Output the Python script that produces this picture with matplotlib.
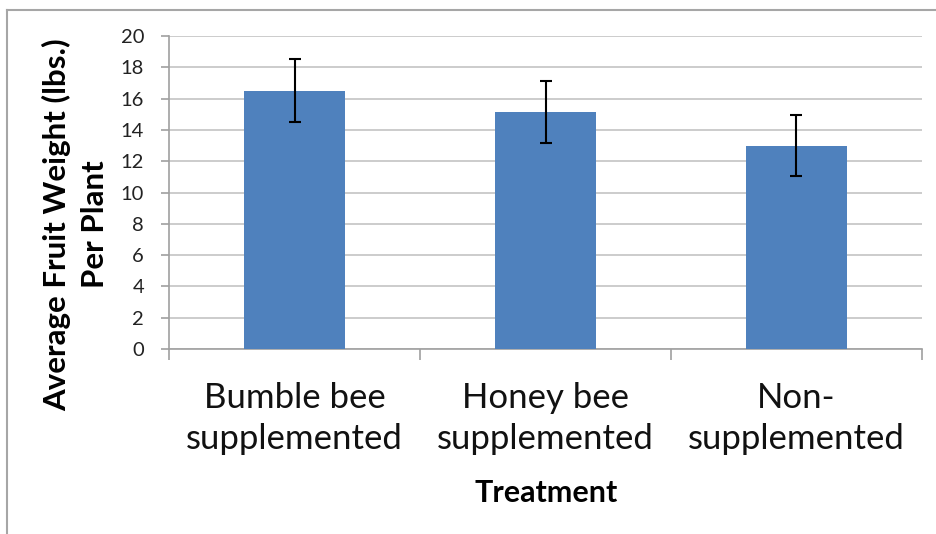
import numpy as np
import matplotlib
matplotlib.use("Agg")
from matplotlib import pyplot as plt
from matplotlib.lines import Line2D

categories = ["Bumble bee\nsupplemented", "Honey bee\nsupplemented", "Non-\nsupplemented"]
means = [16.5, 15.15, 13.0]
errors = [2.0, 1.97, 1.97]
y_ticks = [0, 2, 4, 6, 8, 10, 12, 14, 16, 18, 20]
y_label_lines = ["Average Fruit Weight (lbs.)", "Per Plant"]

plt.rcParams['font.family'] = ['Lato', 'DejaVu Sans']

fig = plt.figure(figsize=(9.36, 5.34), dpi=100)
ax = fig.add_axes([0.1806, 0.3464, 0.8044, 0.5862])

x = np.arange(len(categories))
ax.bar(x, means, width=0.4, color="#4F81BD", zorder=3)
ax.errorbar(x, means, yerr=errors, fmt="none", ecolor="black",
            elinewidth=1.5, capsize=4, capthick=1.5, zorder=4)

ax.set_xlim(-0.5, len(categories) - 0.5)
ax.set_ylim(0, 20)
ax.set_yticks(y_ticks)
ax.set_yticklabels([str(t) for t in y_ticks], fontsize=14.5, color="#222222")
ax.yaxis.grid(True, color="#c4c4c4", linewidth=1.2, zorder=0)

ax.set_xticks(x)
ax.set_xticklabels(categories, fontsize=25, color="#111111", linespacing=1.35)
ax.set_xticks(np.arange(len(categories) + 1) - 0.5, minor=True)
ax.tick_params(axis="x", which="major", length=0, pad=24)
ax.tick_params(axis="x", which="minor", length=8, color="#a0a0a0", width=1.2)
ax.tick_params(axis="y", length=6, color="#a0a0a0", width=1.2, pad=12)

for s in ["top", "right"]:
    ax.spines[s].set_visible(False)
for s in ["left", "bottom"]:
    ax.spines[s].set_color("#a0a0a0")
    ax.spines[s].set_linewidth(1.2)

# y label drawn as two centred lines
for xpos, line in zip([0.061, 0.101], y_label_lines):
    fig.text(xpos, 0.58, line, rotation=90, ha="center", va="center",
             fontsize=22.5, fontweight="bold")
fig.text(0.583, 0.077, "Treatment", ha="center", va="center",
         fontsize=22, fontweight="bold")

# outer chart border (left and top edges)
fig.add_artist(Line2D([0.0075, 0.0075], [0.0, 0.981], color="#a6a6a6", linewidth=1.5))
fig.add_artist(Line2D([0.0075, 1.0], [0.981, 0.981], color="#a6a6a6", linewidth=1.5))

fig.savefig("out.png", dpi=100)
